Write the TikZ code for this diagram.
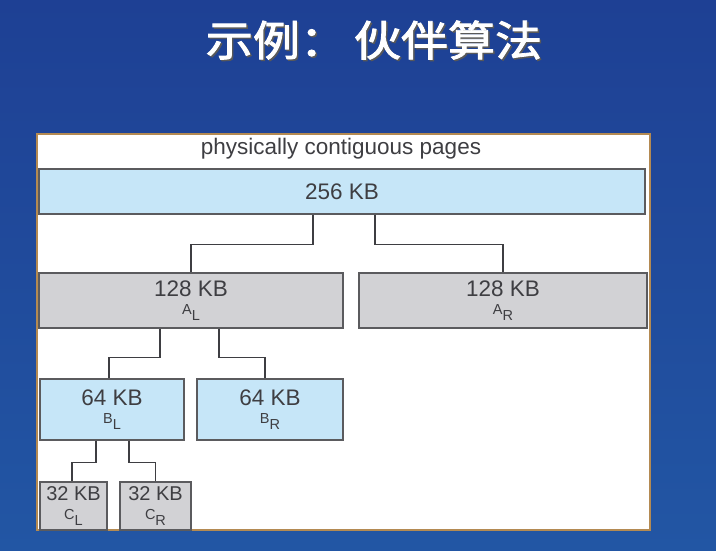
\documentclass[tikz,border=0pt]{standalone}
\usepackage{fontspec}
\setmainfont{Liberation Sans}
\newfontfamily\cjk[AutoFakeBold=2]{Noto Sans CJK SC}
\usetikzlibrary{positioning}

\definecolor{slideblue}{RGB}{30,64,148}
\definecolor{slidebluelow}{RGB}{34,86,164}
\definecolor{blockblue}{RGB}{198,230,248}
\definecolor{blockgray}{RGB}{210,210,213}
\definecolor{frametan}{RGB}{180,138,82}
\definecolor{inkgray}{RGB}{62,62,66}

\newcommand{\blocktag}[2]{{\fontsize{14.5}{14}\selectfont #1\raisebox{-0.42em}{#2}}}
\newcommand{\slidetitle}{\scalebox{1.12}[1]{示例：\hspace{0.15em}伙伴算法}}

\begin{document}
\begin{tikzpicture}[
  x=1pt, y=-1pt,
  font=\fontsize{22.5}{24}\selectfont,
  blk/.style={draw=inkgray!85, line width=1.1pt, text=inkgray, align=center, inner sep=0pt},
  free/.style={blk, fill=blockblue},
  used/.style={blk, fill=blockgray},
  lk/.style={draw=inkgray, line width=1.5pt},
]
% slide background
\shade[top color=slideblue, bottom color=slidebluelow] (0,0) rectangle (716,551);
\node[text=black!65, font=\cjk\bfseries\fontsize{42}{42}\selectfont] (titleshadow) at (375.5,41.5) {\slidetitle};
\node[text=white, font=\cjk\bfseries\fontsize{42}{42}\selectfont] (title) at (374,40) {\slidetitle};
\node[draw=frametan, fill=white, line width=1.6pt, minimum width=613pt, minimum height=396pt, inner sep=0pt] (panel) at (343.5,332) {};
\node[text=inkgray] (heading) at (341,149) {physically contiguous pages};
% blocks
\node[free, minimum width=606pt, minimum height=45pt] (top) at (342,191.5) {256 KB};
\node[used, minimum width=304pt, minimum height=55pt] (aL) at (191,300.5) {128 KB\\[-6pt]\blocktag{A}{L}};
\node[used, minimum width=288pt, minimum height=55pt] (aR) at (503,300.5) {128 KB\\[-6pt]\blocktag{A}{R}};
\node[free, minimum width=144pt, minimum height=61pt] (bL) at (112,409.5) {64 KB\\[-6pt]\blocktag{B}{L}};
\node[free, minimum width=146pt, minimum height=61pt] (bR) at (270,409.5) {64 KB\\[-6pt]\blocktag{B}{R}};
\node[used, minimum width=67pt, minimum height=48pt, font=\fontsize{20}{22}\selectfont] (cL) at (73.5,506) {32 KB\\[-3pt]\blocktag{C}{L}};
\node[used, minimum width=71pt, minimum height=48pt, font=\fontsize{20}{22}\selectfont] (cR) at (155.5,506) {32 KB\\[-3pt]\blocktag{C}{R}};
% splits
\draw[lk] ([xshift=-29pt]top.south) -- ++(0,30) -| (aL.north);
\draw[lk] ([xshift=33pt]top.south) -- ++(0,30) -| (aR.north);
\draw[lk] ([xshift=-31pt]aL.south) -- ++(0,29) -| ([xshift=-3pt]bL.north);
\draw[lk] ([xshift=28pt]aL.south) -- ++(0,29) -| ([xshift=-5pt]bR.north);
\draw[lk] ([xshift=-16pt]bL.south) -- ++(0,22) -| ([xshift=-1.5pt]cL.north);
\draw[lk] ([xshift=17pt]bL.south) -- ++(0,22) -| (cR.north);
\end{tikzpicture}
\end{document}
